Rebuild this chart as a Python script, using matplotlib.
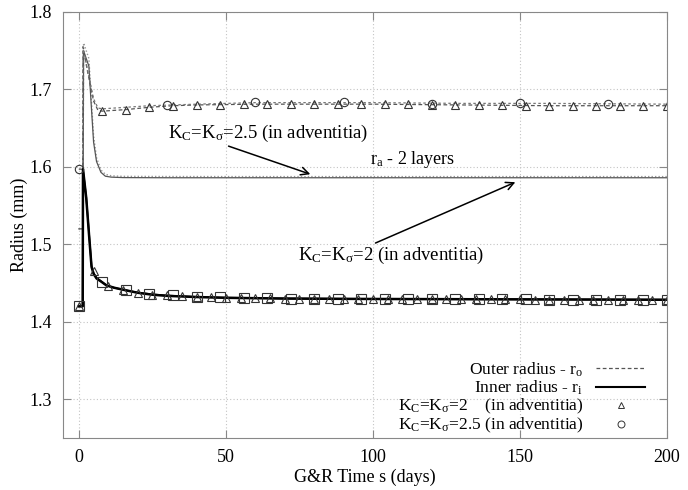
import matplotlib
matplotlib.use("Agg")
import matplotlib.pyplot as plt
from matplotlib.lines import Line2D

plt.rcParams['font.family'] = ['Liberation Serif', 'DejaVu Serif']
plt.rcParams['mathtext.fontset'] = 'custom'
plt.rcParams['mathtext.rm'] = 'Liberation Serif'
plt.rcParams['mathtext.it'] = 'Liberation Serif:italic'

# outer radius curves (dashed)
t_out = [0, 1.3, 1.4, 3.0, 5.0, 6.5, 8, 16, 24, 32, 40, 60, 80, 100, 130, 160, 200]
r_out_k2 = [1.597, 1.597, 1.755, 1.722, 1.685, 1.673, 1.672, 1.674, 1.677, 1.679, 1.680,
            1.681, 1.681, 1.681, 1.680, 1.679, 1.679]
r_out_k25 = [1.597, 1.597, 1.755, 1.724, 1.688, 1.676, 1.675, 1.677, 1.679, 1.680, 1.681,
             1.683, 1.683, 1.683, 1.682, 1.682, 1.681]

# inner radius curves (solid)
t_in = [0, 1.3, 1.4, 2.5, 3.5, 4.3, 5, 6, 7.7, 9.4, 12, 15.6, 20, 25, 30, 40, 50, 70, 100, 150, 200]
r_in_k2 = [1.42, 1.42, 1.597, 1.56, 1.51, 1.471, 1.462, 1.456, 1.4516, 1.447, 1.444, 1.441,
           1.4375, 1.435, 1.4335, 1.432, 1.431, 1.430, 1.4295, 1.429, 1.4285]
r_in_k25 = [1.42, 1.42, 1.597, 1.561, 1.512, 1.473, 1.463, 1.457, 1.452, 1.447, 1.444, 1.441,
            1.4378, 1.4355, 1.434, 1.4322, 1.4312, 1.4302, 1.4295, 1.429, 1.4285]

# adventitia radius r_a (grey)
t_ra = [0, 1.4, 1.6, 3.4, 4.2, 5.0, 6.0, 7.5, 9.0, 11, 15, 30, 60, 100, 150, 200]
r_ra_k25 = [1.52, 1.52, 1.76, 1.74, 1.69, 1.64, 1.612, 1.596, 1.5905, 1.5885, 1.5878,
            1.5876, 1.5875, 1.5875, 1.5875, 1.5875]
r_ra_k2 = [1.52, 1.52, 1.75, 1.73, 1.68, 1.632, 1.607, 1.593, 1.588, 1.5868, 1.5862,
           1.586, 1.586, 1.586, 1.586, 1.586]

# markers
t_tri_out = [8, 16, 24, 32, 40, 48, 56, 64, 72, 80, 88, 96, 104, 112, 120, 128, 136,
             144, 152, 160, 168, 176, 184, 192, 200]
r_tri_out = [1.672, 1.674, 1.677, 1.679, 1.680, 1.680, 1.681, 1.681, 1.681, 1.681, 1.681,
             1.681, 1.681, 1.681, 1.680, 1.680, 1.680, 1.680, 1.679, 1.679, 1.679, 1.679,
             1.679, 1.679, 1.679]
t_circ = [0, 30, 60, 90, 120, 150, 180]
r_circ = [1.597, 1.680, 1.6835, 1.6835, 1.681, 1.682, 1.681]
t_tri_in = list(range(0, 201, 5))
r_tri_in = [1.42, 1.466, 1.446, 1.441, 1.4375, 1.435, 1.434, 1.433, 1.432, 1.4315, 1.431,
            1.4308, 1.4305, 1.4302, 1.430, 1.430, 1.430, 1.4298, 1.4296, 1.4295, 1.4295,
            1.4293, 1.4292, 1.4291, 1.429, 1.429, 1.429, 1.429, 1.429, 1.429, 1.429,
            1.4288, 1.4288, 1.4287, 1.4287, 1.4286, 1.4286, 1.4285, 1.4285, 1.4285, 1.4285]
t_sq = [0] + list(range(8, 201, 8))
r_sq = [1.42, 1.452, 1.441, 1.4358, 1.434, 1.4322, 1.4315, 1.431, 1.4305, 1.430, 1.430,
        1.4298, 1.4296, 1.4295, 1.4294, 1.4292, 1.429, 1.429, 1.429, 1.4289, 1.4288,
        1.4287, 1.4286, 1.4285, 1.4285, 1.4285]

fig = plt.figure(figsize=(6.88, 4.9), dpi=100)
ax = fig.add_axes([63 / 688, 1 - 438 / 490, 604 / 688, 426 / 490])

ax.plot(t_ra, r_ra_k25, color='#999999', lw=1.0, ls=(0, (1, 1.5)))
ax.plot(t_ra, r_ra_k2, color='#555555', lw=0.9)
ax.plot(t_out, r_out_k2, color='#555555', lw=0.9, ls=(0, (3, 2)))
ax.plot(t_out, r_out_k25, color='#777777', lw=0.9, ls=(0, (2, 2)))
ax.plot(t_in, r_in_k2, color='black', lw=1.8)
ax.plot(t_in, r_in_k25, color='black', lw=1.2)

mk = dict(ls='none', mfc='none', mec='#333333', mew=0.8)
ax.plot(t_tri_out, r_tri_out, marker='^', ms=6, **mk)
ax.plot(t_circ, r_circ, marker='o', ms=6, **mk)
ax.plot(t_tri_in, r_tri_in, marker='^', ms=6, **mk)
ax.plot(t_sq, r_sq, marker='s', ms=7, **mk)

ax.set_xlim(-5.4, 200)
ax.set_ylim(1.25, 1.8)
ax.set_xticks([0, 50, 100, 150, 200])
ax.set_yticks([1.3, 1.4, 1.5, 1.6, 1.7, 1.8])
ax.grid(True, color='#c4c4c4', ls=(0, (1, 2)), lw=0.8)
for s in ax.spines.values():
    s.set_color('#888888')
ax.tick_params(direction='in', top=True, right=True, color='#888888', length=6,
               labelsize=13, pad=8)

ax.set_xlabel('G&R Time s (days)', fontsize=13, labelpad=2)
ax.set_ylabel('Radius (mm)', fontsize=13, labelpad=1)

ax.text(30.3, 1.6437, r'K$_{\mathrm{C}}$=K$_{\mathrm{σ}}$=2.5 (in adventitia)', fontsize=13.5,
        va='center', ha='left')
ax.text(99, 1.609, r'r$_{\mathrm{a}}$ - 2 layers', fontsize=13, va='center', ha='left')
ax.text(74.5, 1.486, r'K$_{\mathrm{C}}$=K$_{\mathrm{σ}}$=2 (in adventitia)', fontsize=13.5,
        va='center', ha='left')
ax.annotate('', xy=(79.6, 1.5894), xytext=(50.0, 1.628),
            arrowprops=dict(arrowstyle='->', lw=1.1, color='black', mutation_scale=14))
ax.annotate('', xy=(149.3, 1.5817), xytext=(100, 1.5003),
            arrowprops=dict(arrowstyle='->', lw=1.1, color='black', mutation_scale=14))

handles = [
    Line2D([], [], color='#555555', lw=0.9, ls=(0, (3, 2))),
    Line2D([], [], color='black', lw=1.5),
    Line2D([], [], ls='none', marker='^', ms=5, mfc='none', mec='#333333', mew=0.7),
    Line2D([], [], ls='none', marker='o', ms=5, mfc='none', mec='#333333', mew=0.7),
]
labels = [
    r'Outer radius - r$_{\mathrm{o}}$',
    r'Inner radius - r$_{\mathrm{i}}$',
    r'K$_{\mathrm{C}}$=K$_{\mathrm{σ}}$=2    (in adventitia)',
    r'K$_{\mathrm{C}}$=K$_{\mathrm{σ}}$=2.5 (in adventitia)',
]
ax.legend(handles, labels, loc='lower right', bbox_to_anchor=(0.9636, 0.006),
          frameon=False, markerfirst=False, fontsize=12.5, handlelength=2.8,
          handletextpad=0.75, labelspacing=0.0, borderpad=0, borderaxespad=0)

fig.savefig('out.png', dpi=100)
